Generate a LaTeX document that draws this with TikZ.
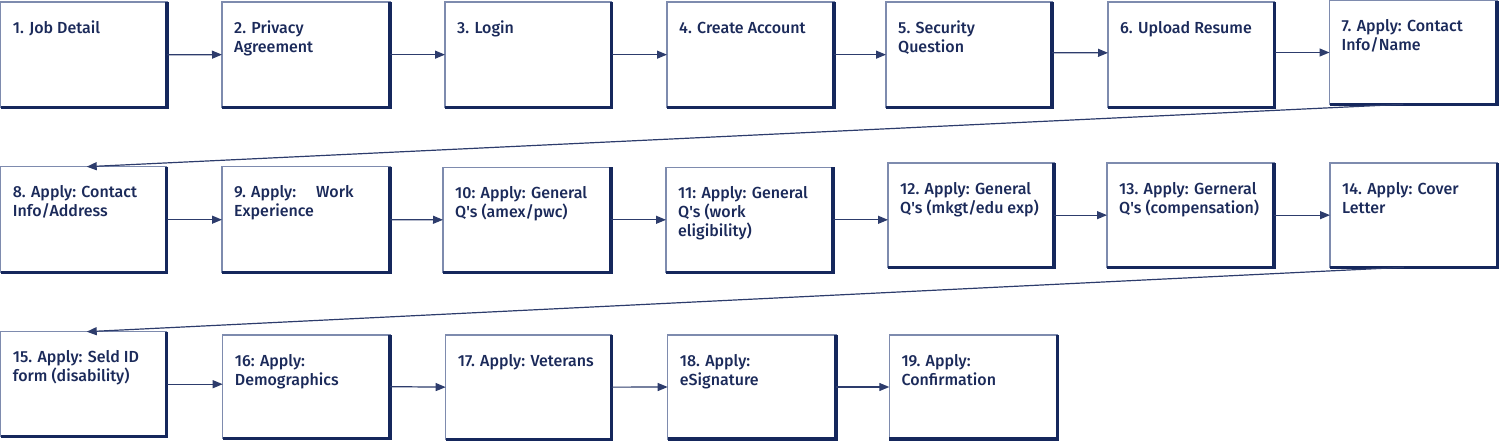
\documentclass[tikz,border=0pt]{standalone}
\usepackage{fontspec}
\setmainfont{Fira Sans}[UprightFont={* Medium}]
\usetikzlibrary{arrows.meta}
\definecolor{darkc}{HTML}{15275C}
\definecolor{lightc}{HTML}{7E8BAE}
\definecolor{arrc}{HTML}{2D3C6C}
\definecolor{textc}{HTML}{1B2A5A}
\newcommand\q{\textquotesingle}
\tikzset{
  boxs/.style={draw=lightc, fill=white, line width=1.4pt, inner sep=0pt, outer sep=0pt},
  edge/.style={draw=darkc, line width=3.2pt},
  lbl/.style={anchor=north west, inner sep=0pt, align=left, text=textc,
    font=\fontsize{16}{19}\selectfont},
  arr/.style={draw=arrc, line width=1.2pt, -{Triangle[length=10pt,width=8pt]}},
}
\newcommand\stepbox[6]{%
  \node[boxs, anchor=north west, minimum width={(#4-#2)*1pt}, minimum height={(#5-#3)*1pt}] (#1) at (#2,#3) {};
  \draw[edge] (#1.north east) -- (#1.south east) -- (#1.south west);
  \node[lbl] (#1t) at ([xshift=12pt,yshift=-18pt]#1.north west) {\rule{0pt}{13pt}#6};
}
\begin{document}
\begin{tikzpicture}[x=1pt,y=-1pt]
\useasboundingbox (0,0) rectangle (1500,441);
\stepbox{b1}{0.7}{2}{167}{107.5}{1. Job Detail}
\stepbox{b2}{222}{2}{390}{107.3}{2. Privacy\\Agreement}
\stepbox{b3}{445}{2}{611.7}{107.3}{3. Login}
\stepbox{b4}{667}{2}{834}{107.3}{4. Create Account}
\stepbox{b5}{886}{2}{1052}{107.3}{5. Security\\Question}
\stepbox{b6}{1108}{2}{1274.5}{107.7}{6. Upload Resume}
\stepbox{b7}{1329.5}{0.7}{1497}{104.3}{7. Apply: Contact\\Info/Name}
\stepbox{b8}{0.7}{166.7}{166.7}{272.7}{8. Apply: Contact\\Info/Address}
\stepbox{b9}{222}{166.7}{390}{272.7}{9. Apply:\hspace{20pt}Work\\Experience}
\stepbox{b10}{443}{167.3}{611}{272.3}{10: Apply: General\\Q\q s (amex/pwc)}
\stepbox{b11}{666}{167.3}{833}{272.3}{11: Apply: General\\Q\q s (work\\eligibility)}
\stepbox{b12}{888}{163}{1054}{267.3}{12. Apply: General\\Q\q s (mkgt/edu exp)}
\stepbox{b13}{1107}{163}{1274}{267.3}{13. Apply: Gerneral\\Q\q s (compensation)}
\stepbox{b14}{1330}{163}{1497.5}{267.3}{14. Apply: Cover\\Letter}
\stepbox{b15}{0.7}{331.7}{166.7}{436.7}{15. Apply: Seld ID\\form (disability)}
\stepbox{b16}{222.7}{335}{390}{438.3}{16: Apply:\\Demographics}
\stepbox{b17}{445.7}{335}{611.7}{439.3}{17. Apply: Veterans}
\stepbox{b18}{667.7}{335}{836}{439}{18. Apply:\\eSignature}
\stepbox{b19}{889.3}{335}{1057.3}{439}{19. Apply:\\Confirmation}
% row 1
\draw[arr] (b1.east) -- (b2.west);
\draw[arr] (b2.east) -- (b3.west);
\draw[arr] (b3.east) -- (b4.west);
\draw[arr] (b4.east) -- (b5.west);
\draw[arr] ([yshift=2pt]b5.east) -- ([yshift=2pt]b6.west);
\draw[arr] (b6.east |- b7.west) -- (b7.west);
\draw[arr] ([xshift=-10pt]b7.south) -- ([xshift=3pt]b8.north);
% row 2
\draw[arr] (b8.east) -- (b9.west);
\draw[arr] (b9.east) -- (b10.west);
\draw[arr] (b10.east) -- (b11.west);
\draw[arr] (b11.east) -- (b11.east -| b12.west);
\draw[arr] (b12.east) -- (b13.west);
\draw[arr] (b13.east) -- (b14.west);
\draw[arr] ([xshift=-10pt]b14.south) -- ([xshift=3pt]b15.north);
% row 3
\draw[arr] (b15.east) -- (b15.east -| b16.west);
\draw[arr] (b16.east) -- (b17.west);
\draw[arr] (b17.east) -- (b18.west);
\draw[arr] (b18.east) -- (b19.west);
\end{tikzpicture}
\end{document}
